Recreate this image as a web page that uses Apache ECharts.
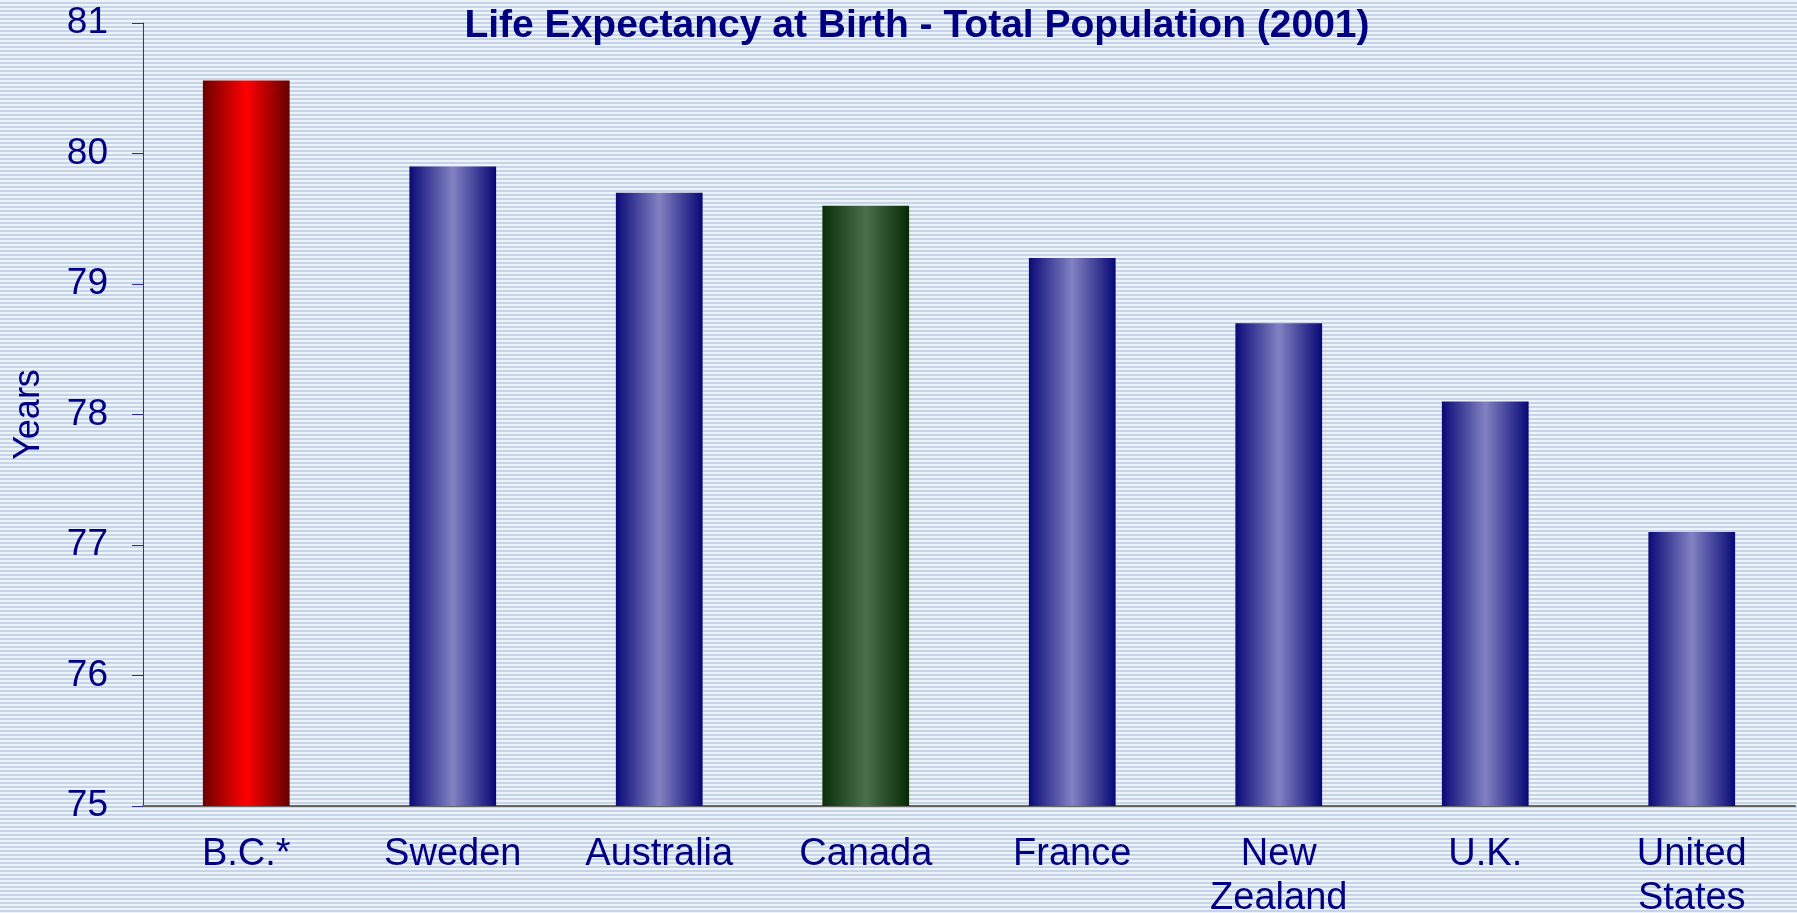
<!DOCTYPE html>
<html>
<head>
<meta charset="utf-8">
<script src="https://cdn.jsdelivr.net/npm/echarts@6/dist/echarts.min.js"></script>
<style>
  html, body { margin: 0; padding: 0; }
  /* 横条纹背景 */
  .echart-con {
    width: 1797px;
    height: 913px;
    background: repeating-linear-gradient(to bottom, #eef3f9 0px, #eef3f9 2px, #c6d4e7 2px, #c6d4e7 4px);
  }
</style>
</head>
<body>
<div id="main" class="echart-con"></div>
<script>
// 数据
let countries = ["B.C.*", "Sweden", "Australia", "Canada", "France", "New Zealand", "U.K.", "United States"];
let lifeExpectancy = [80.56, 79.9, 79.7, 79.6, 79.2, 78.7, 78.1, 77.1];

// 柱子的渐变颜色
function barGradient(name) {
  let stops;
  if (name === "B.C.*") {
    stops = ["#6e0000", "#ff0000", "#650000"];
  } else if (name === "Canada") {
    stops = ["#0a2e0a", "#4b6f4a", "#072a07"];
  } else {
    stops = ["#0a0a78", "#8282c2", "#080876"];
  }
  return new echarts.graphic.LinearGradient(0, 0, 1, 0, [
    { offset: 0, color: stops[0] },
    { offset: 0.5, color: stops[1] },
    { offset: 1, color: stops[2] }
  ]);
}

let myChart = echarts.init(document.getElementById("main"));

let option = {
  backgroundColor: "transparent",
  title: {
    text: "Life Expectancy at Birth - Total Population (2001)",
    left: 912,
    top: 2,
    textAlign: "center",
    textStyle: {
      fontFamily: "'Liberation Sans Narrow', 'Arial Narrow', 'Liberation Sans', Arial",
      fontWeight: "bold",
      fontSize: 39,
      color: "#000080"
    }
  },
  grid: {
    left: 143,
    right: 2,
    top: 23,
    bottom: 107,
    outerBoundsMode: "none",
    containLabel: false
  },
  xAxis: {
    type: "category",
    data: countries,
    axisLine: { lineStyle: { color: "#666666", width: 2 } },
    axisTick: { length: 10, lineStyle: { color: "#444444" } },
    axisLabel: {
      margin: 27,
      fontFamily: "'Liberation Sans', Arial",
      fontSize: 38,
      lineHeight: 44,
      color: "#000080",
      formatter: function (v) {
        return v.replace(" ", "\n");
      }
    }
  },
  yAxis: {
    type: "value",
    min: 75,
    max: 81,
    interval: 1,
    name: "Years",
    nameLocation: "middle",
    nameGap: 96,
    nameRotate: 90,
    nameMoveOverlap: false,
    nameTextStyle: {
      fontFamily: "'Liberation Sans', Arial",
      fontSize: 36,
      color: "#000080"
    },
    axisLine: { show: true, lineStyle: { color: "#303096", width: 1 } },
    axisTick: { show: true, length: 11, lineStyle: { color: "#303096" } },
    splitLine: { show: false },
    axisLabel: {
      margin: 35,
      fontFamily: "'Liberation Sans', Arial",
      fontSize: 37,
      color: "#000080"
    }
  },
  series: [
    {
      name: "Life Expectancy",
      type: "bar",
      barWidth: "42%",
      data: lifeExpectancy.map((v, i) => ({
        value: v,
        itemStyle: { color: barGradient(countries[i]) }
      }))
    }
  ]
};

myChart.setOption(option);
</script>
</body>
</html>
